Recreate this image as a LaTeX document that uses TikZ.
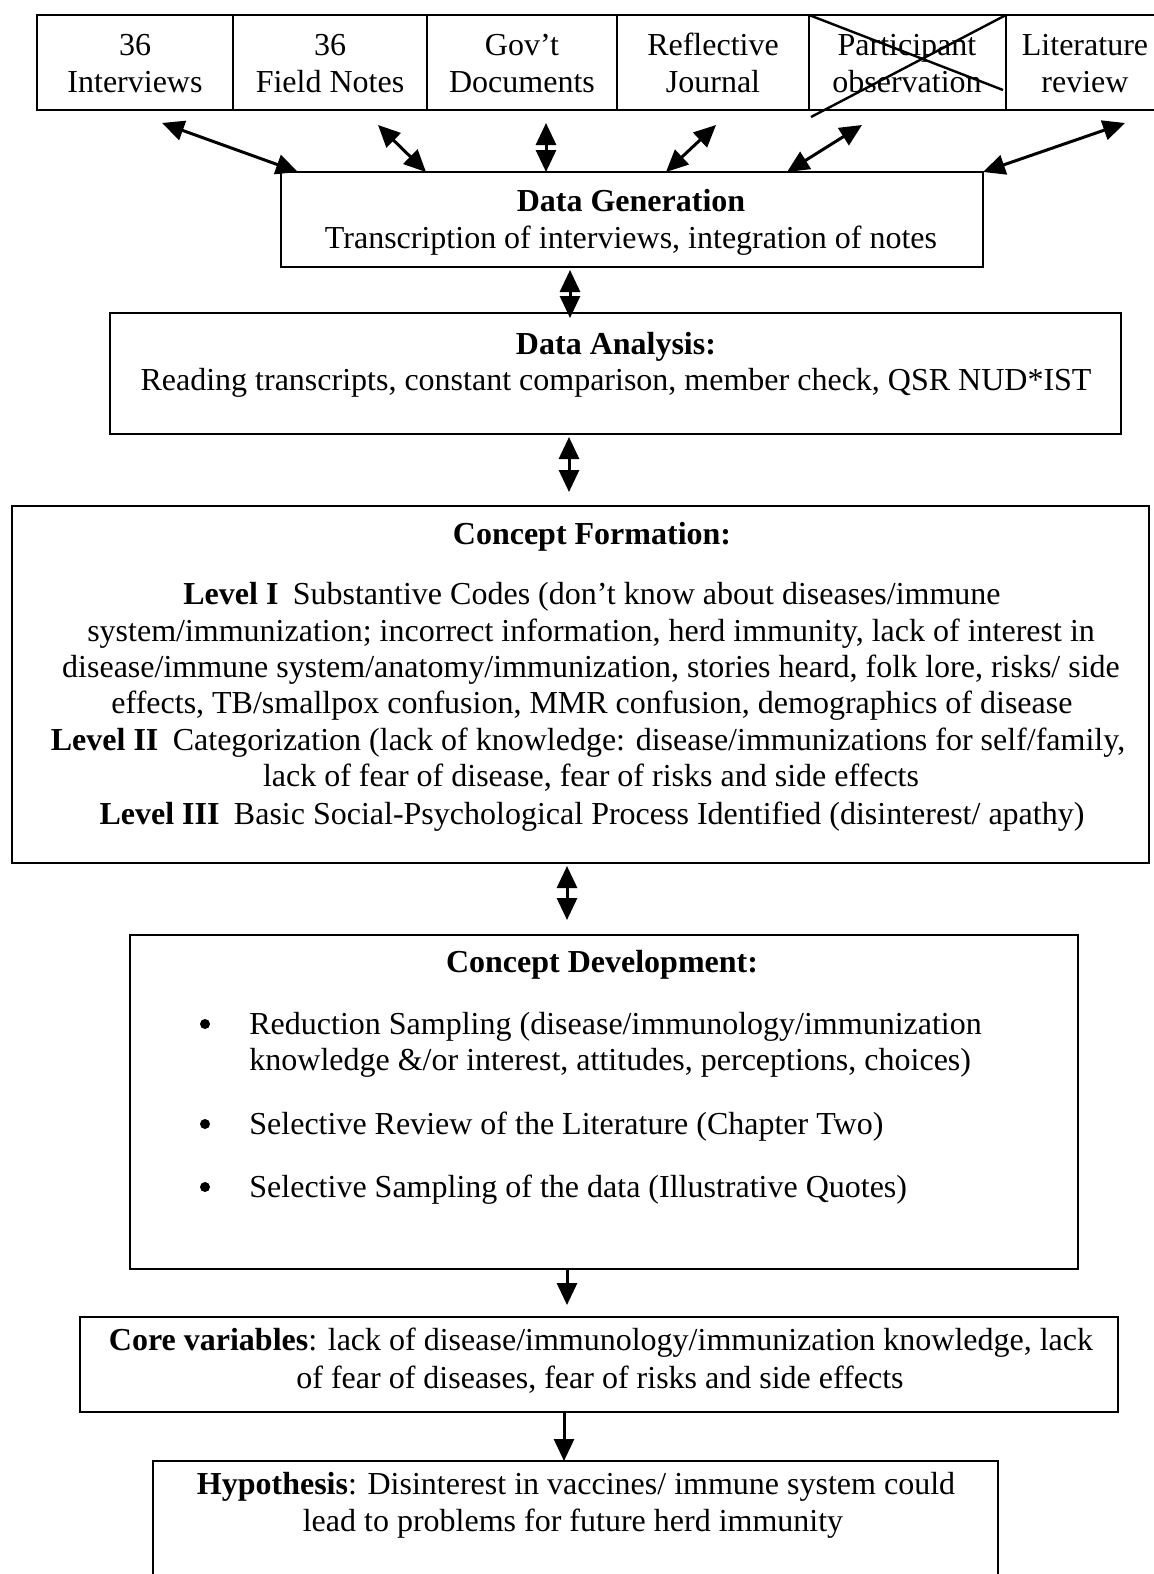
\documentclass[tikz,border=0pt]{standalone}
\usepackage{fontspec}
\setmainfont{Liberation Serif}
\usetikzlibrary{arrows.meta}
\newcommand\pxbox[6][]{% opts, name, x1, y1, x2, y2
  \pgfmathsetmacro\bw{(#5-#3)*0.5}\pgfmathsetmacro\bh{(#6-#4)*0.5}%
  \node[box, minimum width=\bw pt, minimum height=\bh pt, #1] (#2) at ({(#3+#5)/2},{(#4+#6)/2}) {};}
\begin{document}
\begin{tikzpicture}[x=0.5pt,y=-0.5pt,
  box/.style={draw, line width=1.2pt, inner sep=0pt, outer sep=0pt, rectangle},
  txt/.style={anchor=base, inner sep=0pt, font=\fontsize{16}{18.4}\selectfont},
  ltxt/.style={txt, anchor=base west},
  bul/.style={circle, fill, inner sep=0pt, minimum size=5pt},
  dbl/.style={{Triangle[length=11pt,width=10pt]}-{Triangle[length=11pt,width=10pt]}, line width=1.5pt},
  sgl/.style={-{Triangle[length=11pt,width=10pt]}, line width=1.5pt}]
\fill[white] (0,0) rectangle (1154,1574);
\useasboundingbox (0,0) rectangle (1154,1574);

% top row of sources
\pxbox{c1}{37}{15}{233}{110}
\pxbox{c2}{233}{15}{427}{110}
\pxbox{c3}{427}{15}{617}{110}
\pxbox{c4}{617}{15}{809}{110}
\pxbox{c5}{809}{15}{1006}{110}
\pxbox{c6}{1006}{15}{1170}{110}
\node[txt] (t1a) at (135,55) {36};
\node[txt] (t1b) at (135,92) {Interviews};
\node[txt] (t2a) at (330,55) {36};
\node[txt] (t2b) at (330,92) {Field Notes};
\node[txt] (t3a) at (522,55) {Gov’t};
\node[txt] (t3b) at (522,92) {Documents};
\node[txt] (t4a) at (713,55) {Reflective};
\node[txt] (t4b) at (713,92) {Journal};
\node[txt] (t5a) at (907,55) {Participant};
\node[txt] (t5b) at (907,92) {observation};
\node[txt] (t6a) at (1085,55) {Literature};
\node[txt] (t6b) at (1085,92) {review};
% cross over participant observation
\draw[line width=1.2pt] (c5.north west) -- (1003,90);
\draw[line width=1.2pt] (811,117) -- (c5.north east);

% data generation
\pxbox{dg}{281}{172}{983}{267}
\node[txt] (dg1) at (631,211) {\textbf{Data Generation}};
\node[txt] (dg2) at (631,248) {Transcription of interviews, integration of notes};

% arrows sources <-> data generation
\coordinate (a1t) at (162,123); \coordinate (a1b) at (298,172);
\coordinate (a2t) at (378,125); \coordinate (a2b) at (426,172);
\coordinate (a3t) at (546,123); \coordinate (a3b) at (546,172);
\coordinate (a4t) at (716,125); \coordinate (a4b) at (666,172);
\coordinate (a5t) at (862,125); \coordinate (a5b) at (787,172);
\coordinate (a6t) at (1125,123); \coordinate (a6b) at (983,172);
\draw[dbl] (a1t) -- (a1b);
\draw[dbl] (a2t) -- (a2b);
\draw[dbl] (a3t) -- (a3b);
\draw[dbl] (a4t) -- (a4b);
\draw[dbl] (a5t) -- (a5b);
\draw[dbl] (a6t) -- (a6b);

% data analysis
\pxbox{da}{110}{313}{1121}{434}
\node[txt] (da1) at (616,354) {\textbf{Data Analysis:}};
\node[txt] (da2) at (616,390) {Reading transcripts, constant comparison, member check, QSR NUD*IST};
\coordinate (v1t) at (570,270); \coordinate (v1b) at (570,318);
\draw[dbl] (v1t) -- (v1b);

% concept formation
\pxbox{cf}{12}{506}{1149}{863}
\coordinate (v2t) at (569,437); \coordinate (v2b) at (569,492);
\draw[dbl] (v2t) -- (v2b);
\node[txt] (cf0) at (592,544) {\textbf{Concept Formation:}};
\node[txt] (cf1) at (592,604) {\textbf{Level I}\hspace{0.45em}Substantive Codes (don’t know about diseases/immune};
\node[txt] (cf2) at (591,641) {system/immunization; incorrect information, herd immunity, lack of interest in};
\node[txt] (cf3) at (591,677) {disease/immune system/anatomy/immunization, stories heard, folk lore, risks/ side};
\node[txt] (cf4) at (592,713) {effects, TB/smallpox confusion, MMR confusion, demographics of disease};
\node[txt] (cf5) at (588,750) {\textbf{Level II}\hspace{0.45em}Categorization (lack of knowledge: disease/immunizations for self/family,};
\node[txt] (cf6) at (591,786) {lack of fear of disease, fear of risks and side effects};
\node[txt] (cf7) at (592,824) {\textbf{Level III}\hspace{0.45em}Basic Social-Psychological Process Identified (disinterest/ apathy)};

% concept development
\pxbox{cd}{130}{935}{1078}{1269}
\coordinate (v3t) at (567,866); \coordinate (v3b) at (567,920);
\draw[dbl] (v3t) -- (v3b);
\node[txt] (cd0) at (602,972) {\textbf{Concept Development:}};
\node[bul] (b1) at (205,1024) {};
\node[ltxt] (cd1) at (249,1034) {Reduction Sampling (disease/immunology/immunization};
\node[ltxt] (cd2) at (249,1070) {knowledge \&/or interest, attitudes, perceptions, choices)};
\node[bul] (b2) at (205,1124) {};
\node[ltxt] (cd3) at (249,1134) {Selective Review of the Literature (Chapter Two)};
\node[bul] (b3) at (205,1187) {};
\node[ltxt] (cd4) at (249,1197) {Selective Sampling of the data (Illustrative Quotes)};

% core variables
\pxbox{cv}{80}{1317}{1118}{1412}
\coordinate (v4b) at (567,1305);
\draw[sgl] (cd.south -| v4b) -- (v4b);
\node[txt] (cv1) at (601,1350) {\textbf{Core variables}: lack of disease/immunology/immunization knowledge, lack};
\node[txt] (cv2) at (600,1388) {of fear of diseases, fear of risks and side effects};

% hypothesis
\pxbox{hy}{153}{1461}{998}{1610}
\coordinate (v5t) at (564,1412);
\draw[sgl] (v5t) -- (hy.north -| v5t);
\node[txt] (hy1) at (576,1494) {\textbf{Hypothesis}: Disinterest in vaccines/ immune system could};
\node[txt] (hy2) at (573,1531) {lead to problems for future herd immunity};
\end{tikzpicture}
\end{document}
